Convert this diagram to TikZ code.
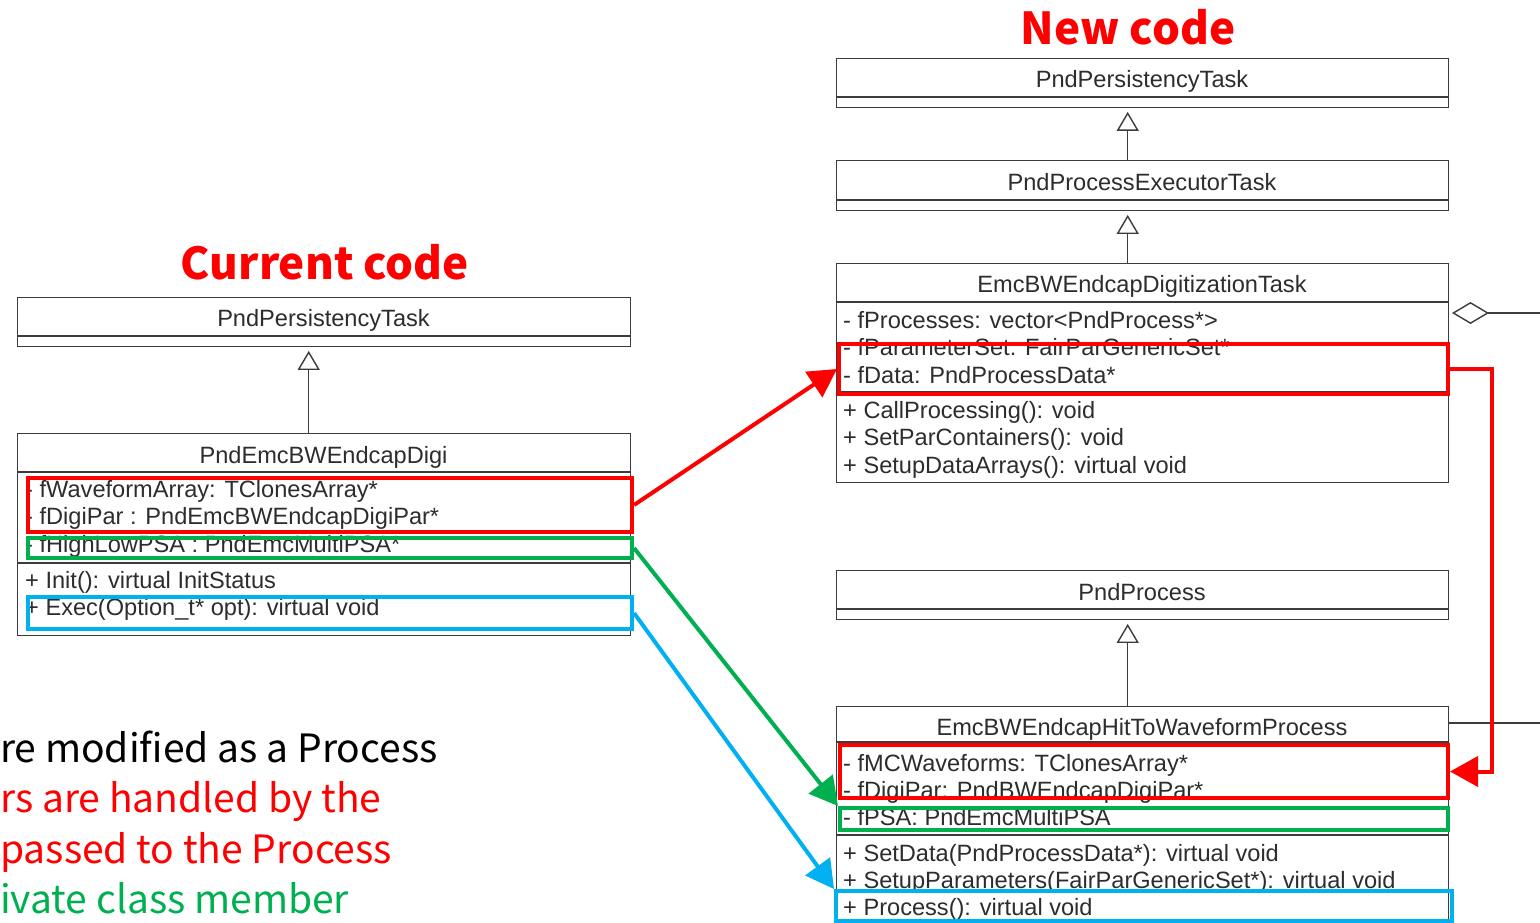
\documentclass[tikz,border=0pt]{standalone}
\usepackage{fontspec}
\setmainfont{Liberation Sans}
\newfontfamily\headfont{Noto Sans CJK SC}
\usetikzlibrary{arrows.meta}

\definecolor{umlline}{RGB}{60,60,60}
\definecolor{umlink}{RGB}{45,45,45}
\definecolor{hred}{RGB}{255,0,0}
\definecolor{hgreen}{RGB}{0,176,80}
\definecolor{hblue}{RGB}{0,176,240}

\tikzset{
  classbox/.style={draw=umlline, line width=1.4pt, fill=white, inner sep=0pt, anchor=north west},
  sepline/.style={draw=umlline, line width=1.4pt},
  member/.style={font=\fontsize{23.6}{27}\selectfont, text=umlink, inner sep=0pt, anchor=base west},
  classname/.style={member, anchor=base},
  hlbox/.style={line width=4pt, inner sep=0pt, anchor=north west},
  hlarrow/.style={line width=4pt, -{Triangle[length=28pt,width=30pt]}},
  inherit/.style={draw=umlline, line width=1.4pt, -{Triangle[open,length=19pt,width=22pt]}, shorten >=3.5pt},
  headline/.style={font=\headfont\bfseries\fontsize{44}{48}\selectfont, text=hred, inner sep=0pt, anchor=base},
  note/.style={font=\headfont\fontsize{39}{44}\selectfont, inner sep=0pt, anchor=base west}
}

\begin{document}
\begin{tikzpicture}[x=1pt, y=-1pt]
\useasboundingbox (0,0) rectangle (1540,923);
\path[clip] (0,0) rectangle (1540,923);

% ---------- current implementation ----------
\node[headline] (curtitle) at (325,279) {Current code};

\node[classbox, minimum width=613pt, minimum height=49pt] (lpers) at (17,297) {};
\draw[sepline] (17,336) -- (630,336);
\node[classname] (lpersname) at (323.5,326) {PndPersistencyTask};

\node[classbox, minimum width=613pt, minimum height=202pt] (ldigi) at (17,433) {};
\draw[sepline] (17,472) -- (630,472);
\draw[sepline] (17,563) -- (630,563);
\node[classname] (ldiginame) at (323.5,463) {PndEmcBWEndcapDigi};
\node[member] (la1) at (25,497) {- fWaveformArray: TClonesArray*};
\node[member] (la2) at (25,524.5) {- fDigiPar : PndEmcBWEndcapDigiPar*};
\node[member] (la3) at (25,552) {- fHighLowPSA : PndEmcMultiPSA*};
\node[member] (lm1) at (25,588) {+ Init(): virtual InitStatus};
\node[member] (lm2) at (25,615.5) {+ Exec(Option\_t* opt): virtual void};

\draw[inherit] ([xshift=-15.5pt]ldigi.north) -- ([xshift=-15.5pt]lpers.south);

% ---------- new implementation ----------
\node[headline] (newtitle) at (1128,45) {New code};

\node[classbox, minimum width=612pt, minimum height=49pt] (rpers) at (836,58) {};
\draw[sepline] (836,97) -- (1448,97);
\node[classname] (rpersname) at (1142,88) {PndPersistencyTask};

\node[classbox, minimum width=612pt, minimum height=50pt] (rexec) at (836,160) {};
\draw[sepline] (836,200) -- (1448,200);
\node[classname] (rexecname) at (1142,190) {PndProcessExecutorTask};

\node[classbox, minimum width=612pt, minimum height=219pt] (rdigi) at (836,263) {};
\draw[sepline] (836,302) -- (1448,302);
\draw[sepline] (836,392) -- (1448,392);
\node[classname] (rdiginame) at (1142,292) {EmcBWEndcapDigitizationTask};
\node[member] (ra1) at (843,328) {- fProcesses: vector<PndProcess*>};
\node[member] (ra2) at (843,355.5) {- fParameterSet: FairParGenericSet*};
\node[member] (ra3) at (843,383) {- fData: PndProcessData*};
\node[member] (rm1) at (843,418) {+ CallProcessing(): void};
\node[member] (rm2) at (843,445.5) {+ SetParContainers(): void};
\node[member] (rm3) at (843,473) {+ SetupDataArrays(): virtual void};

\node[classbox, minimum width=612pt, minimum height=49pt] (rproc) at (836,570) {};
\draw[sepline] (836,609) -- (1448,609);
\node[classname] (rprocname) at (1142,600) {PndProcess};

\node[classbox, minimum width=612pt, minimum height=240pt] (rhit) at (836,706) {};
\draw[sepline] (836,742) -- (1448,742);
\draw[sepline] (836,835) -- (1448,835);
\node[classname] (rhitname) at (1142,735) {EmcBWEndcapHitToWaveformProcess};
\node[member] (rh1) at (843,771) {- fMCWaveforms: TClonesArray*};
\node[member] (rh2) at (843,798) {- fDigiPar: PndBWEndcapDigiPar*};
\node[member] (rh3) at (843,825) {- fPSA: PndEmcMultiPSA};
\node[member] (rh4) at (843,861) {+ SetData(PndProcessData*): virtual void};
\node[member] (rh5) at (843,888) {+ SetupParameters(FairParGenericSet*): virtual void};
\node[member] (rh6) at (843,915.5) {+ Process(): virtual void};

\draw[inherit] ([xshift=-15pt]rexec.north) -- ([xshift=-15pt]rpers.south);
\draw[inherit] ([xshift=-15pt]rdigi.north) -- ([xshift=-15pt]rexec.south);
\draw[inherit] ([xshift=-15pt]rhit.north) -- ([xshift=-15pt]rproc.south);

% links leaving to the right
\coordinate (aggend) at (1540,313);
\coordinate (aggtask) at (1448,313);
\draw[draw=umlline, line width=1.4pt, -{Diamond[open,length=37pt,width=22pt]}, shorten >=4pt] (aggend) -- (aggtask);
\coordinate (hitend) at (1540,723);
\coordinate (hitside) at (1448,723);
\draw[sepline] (hitside) -- (hitend);

% ---------- highlighted members ----------
\node[hlbox, draw=hred, minimum width=604pt, minimum height=54pt] (lred) at (26,476) {};
\node[hlbox, draw=hgreen, minimum width=604pt, minimum height=20pt] (lgreen) at (26,536) {};
\node[hlbox, draw=hblue, minimum width=604pt, minimum height=32pt] (lblue) at (26,595) {};

\node[hlbox, draw=hred, minimum width=609pt, minimum height=50pt] (rred) at (837,342) {};
\node[hlbox, draw=hred, minimum width=608pt, minimum height=53pt] (rred2) at (838,743) {};
\node[hlbox, draw=hgreen, minimum width=608pt, minimum height=22pt] (rgreen) at (838,806) {};
\node[hlbox, draw=hblue, minimum width=616pt, minimum height=30pt] (rblue) at (834,889) {};

\draw[hlarrow, hred] (lred.east) -- (rred.west);
\draw[hlarrow, hgreen] (lgreen.east) -- (rgreen.north west);
\draw[hlarrow, hblue] (lblue.east) -- (rblue.north west);
\draw[hlarrow, hred] (rred.east) -- ++(41.5,0) |- (rred2.east);

% ---------- notes ----------
\node[note, text=black] (n1) at (0,762) {re modified as a Process};
\node[note, text=hred] (n2) at (0,812) {rs are handled by the};
\node[note, text=hred] (n3) at (0,863) {passed to the Process};
\node[note, text=hgreen] (n4) at (0,913) {ivate class member};
\end{tikzpicture}
\end{document}
